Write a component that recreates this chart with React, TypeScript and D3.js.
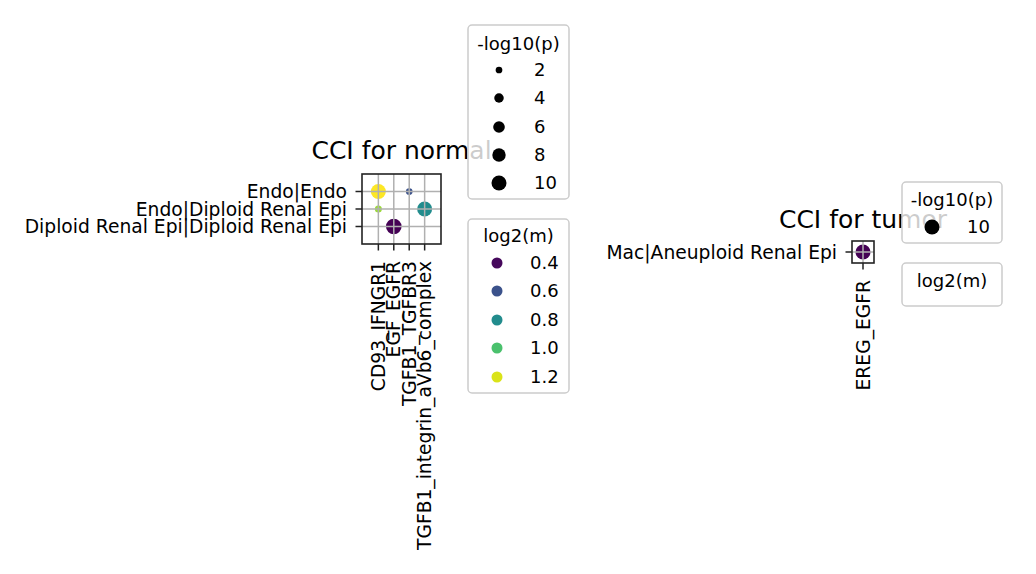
import * as d3 from 'd3';
import { useEffect, useRef } from 'react';

// normal sample
const normalPairs = ['Endo|Endo', 'Endo|Diploid Renal Epi', 'Diploid Renal Epi|Diploid Renal Epi'];
const normalLR = ['CD93_IFNGR1', 'EGF_EGFR', 'TGFB1_TGFBR3', 'TGFB1_integrin_aVb6_complex'];
const normalPointPair = ['Endo|Endo', 'Endo|Endo', 'Endo|Diploid Renal Epi', 'Endo|Diploid Renal Epi', 'Diploid Renal Epi|Diploid Renal Epi'];
const normalPointLR = ['CD93_IFNGR1', 'TGFB1_TGFBR3', 'CD93_IFNGR1', 'TGFB1_integrin_aVb6_complex', 'EGF_EGFR'];
const normalLogP = [10, 2, 2.2, 10, 10.8];
const normalLogM = [1.25, 0.6, 1.12, 0.8, 0.38];

// tumor sample
const tumorPairs = ['Mac|Aneuploid Renal Epi'];
const tumorLR = ['EREG_EGFR'];
const tumorPointPair = ['Mac|Aneuploid Renal Epi'];
const tumorPointLR = ['EREG_EGFR'];
const tumorLogP = [10];
const tumorLogM = [0.5];

// legend entries
const normalSizeTicks = [2, 4, 6, 8, 10];
const normalColorTicks = [0.4, 0.6, 0.8, 1.0, 1.2];
const tumorSizeTicks = [10];
const tumorColorTicks: number[] = [];

const FONT = "'DejaVu Sans', sans-serif";

export default function App() {
    const ref = useRef<SVGSVGElement | null>(null);

    useEffect(() => {
        if (!ref.current) return;
        const svg = d3.select(ref.current);
        svg.selectAll('*').remove();

        const rScale = d3.scaleSqrt().domain([0, 10]).range([0, 7.5]);

        const drawPanel = (opts: {
            title: string; titleY: number;
            box: [number, number, number, number];
            xPad: number; yPad: number;
            pairs: string[]; lrs: string[];
            pPair: string[]; pLR: string[]; logP: number[]; logM: number[];
        }) => {
            const [x0, y0, x1, y1] = opts.box;
            const x = d3.scalePoint<string>().domain(opts.lrs).range([x0, x1]).padding(opts.xPad);
            const y = d3.scalePoint<string>().domain(opts.pairs).range([y0, y1]).padding(opts.yPad);
            const ext = d3.extent(opts.logM) as [number, number];
            const color = (v: number) => {
                const t = ext[1] > ext[0] ? (v - ext[0]) / (ext[1] - ext[0]) : 0;
                return d3.interpolateViridis(t);
            };
            const g = svg.append('g');
            g.append('rect').attr('x', x0).attr('y', y0).attr('width', x1 - x0).attr('height', y1 - y0)
                .attr('fill', 'white');

            // points (grid drawn above them)
            g.selectAll('circle.pt')
                .data(opts.logP.map((p, i) => ({ p, m: opts.logM[i], pair: opts.pPair[i], lr: opts.pLR[i] })))
                .join('circle')
                .attr('cx', d => x(d.lr) as number)
                .attr('cy', d => y(d.pair) as number)
                .attr('r', d => rScale(d.p))
                .attr('fill', d => color(d.m));

            opts.lrs.forEach(l => {
                g.append('line').attr('x1', x(l)!).attr('x2', x(l)!).attr('y1', y0).attr('y2', y1)
                    .attr('stroke', '#b0b0b0').attr('stroke-width', 1.5);
                g.append('line').attr('x1', x(l)!).attr('x2', x(l)!).attr('y1', y1).attr('y2', y1 + 6.5)
                    .attr('stroke', '#222').attr('stroke-width', 1.5);
                g.append('text')
                    .attr('transform', `translate(${x(l)! + 6.5},${y1 + 17}) rotate(-90)`)
                    .attr('text-anchor', 'end')
                    .attr('font-family', FONT).attr('font-size', 18.7)
                    .text(l);
            });
            opts.pairs.forEach(p => {
                g.append('line').attr('x1', x0).attr('x2', x1).attr('y1', y(p)!).attr('y2', y(p)!)
                    .attr('stroke', '#b0b0b0').attr('stroke-width', 1.5);
                g.append('line').attr('x1', x0 - 6.5).attr('x2', x0).attr('y1', y(p)!).attr('y2', y(p)!)
                    .attr('stroke', '#222').attr('stroke-width', 1.5);
                g.append('text')
                    .attr('x', x0 - 15).attr('y', y(p)!).attr('dy', '0.35em')
                    .attr('text-anchor', 'end')
                    .attr('font-family', FONT).attr('font-size', 18.7)
                    .text(p);
            });
            g.append('rect').attr('x', x0).attr('y', y0).attr('width', x1 - x0).attr('height', y1 - y0)
                .attr('fill', 'none').attr('stroke', '#222').attr('stroke-width', 1.6);
            g.append('text')
                .attr('x', (x0 + x1) / 2).attr('y', opts.titleY)
                .attr('text-anchor', 'middle')
                .attr('font-family', FONT).attr('font-size', 25)
                .text(opts.title);
            return color;
        };

        const drawLegend = (opts: {
            box: [number, number, number, number]; title: string; titleY: number;
            markerX: number; labelX: number; rowY: number[];
            ticks: number[]; kind: 'size' | 'color'; color?: (v: number) => string;
        }) => {
            const [x0, y0, x1, y1] = opts.box;
            const g = svg.append('g');
            g.append('rect').attr('x', x0).attr('y', y0).attr('width', x1 - x0).attr('height', y1 - y0)
                .attr('rx', 4).attr('fill', 'white').attr('fill-opacity', 0.8)
                .attr('stroke', '#cccccc').attr('stroke-width', 1.5);
            g.append('text').attr('x', (x0 + x1) / 2).attr('y', opts.titleY).attr('dy', '0.35em')
                .attr('text-anchor', 'middle').attr('font-family', FONT).attr('font-size', 18)
                .text(opts.title);
            opts.ticks.forEach((t, i) => {
                const cy = opts.rowY[i];
                g.append('circle').attr('cx', opts.markerX).attr('cy', cy)
                    .attr('r', opts.kind === 'size' ? rScale(t) : 5.5)
                    .attr('fill', opts.kind === 'size' ? 'black' : opts.color!(t));
                g.append('text').attr('x', opts.labelX).attr('y', cy).attr('dy', '0.35em')
                    .attr('font-family', FONT).attr('font-size', 18)
                    .text(opts.kind === 'size' ? String(t) : t.toFixed(1));
            });
        };

        const normalColor = drawPanel({
            title: 'CCI for normal', titleY: 159,
            box: [362, 174, 441, 244], xPad: 1.06, yPad: 1,
            pairs: normalPairs, lrs: normalLR,
            pPair: normalPointPair, pLR: normalPointLR, logP: normalLogP, logM: normalLogM,
        });
        const tumorColor = drawPanel({
            title: 'CCI for tumor', titleY: 228,
            box: [852, 241, 874, 263], xPad: 0.5, yPad: 0.5,
            pairs: tumorPairs, lrs: tumorLR,
            pPair: tumorPointPair, pLR: tumorPointLR, logP: tumorLogP, logM: tumorLogM,
        });

        drawLegend({
            box: [468, 25, 569, 199], title: '-log10(p)', titleY: 44,
            markerX: 499, labelX: 534, rowY: [70, 98, 127, 155, 183],
            ticks: normalSizeTicks, kind: 'size',
        });
        drawLegend({
            box: [468, 219, 569, 393], title: 'log2(m)', titleY: 236,
            markerX: 497, labelX: 530, rowY: [263, 291, 320, 348, 377],
            ticks: normalColorTicks, kind: 'color', color: normalColor,
        });
        drawLegend({
            box: [902, 182, 1002, 243], title: '-log10(p)', titleY: 200,
            markerX: 932, labelX: 967, rowY: [227],
            ticks: tumorSizeTicks, kind: 'size',
        });
        drawLegend({
            box: [902, 263, 1002, 306], title: 'log2(m)', titleY: 281,
            markerX: 932, labelX: 967, rowY: [],
            ticks: tumorColorTicks, kind: 'color', color: tumorColor,
        });
    }, []);

    return (
        <div style={{ position: 'fixed', left: 0, top: 0, width: 1036, height: 574, background: 'white' }}>
            <svg ref={ref} width={1036} height={574} />
        </div>
    );
}
